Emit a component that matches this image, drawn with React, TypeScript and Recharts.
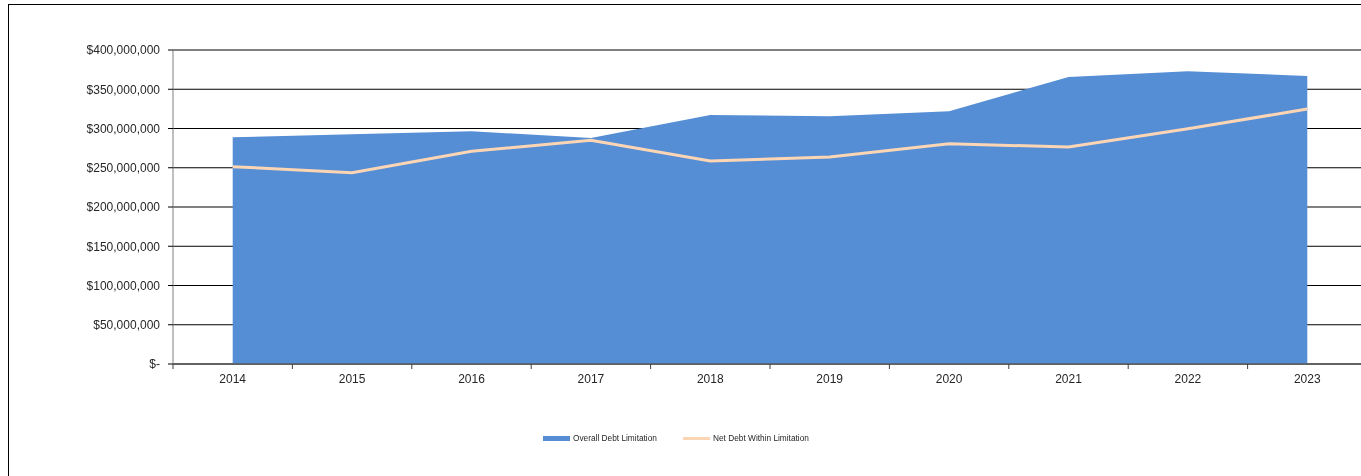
import React from "react";
import {
  ComposedChart,
  Area,
  Line,
  XAxis,
  YAxis,
  CartesianGrid,
  Legend,
} from "recharts";

const years = ["2014", "2015", "2016", "2017", "2018", "2019", "2020", "2021", "2022", "2023"];
const overallDebtLimitation = [
  288800000, 292600000, 296500000, 288000000, 317200000,
  315500000, 321900000, 365600000, 372800000, 366900000,
];
const netDebtWithinLimitation = [
  251400000, 243700000, 271000000, 285000000, 258600000,
  263700000, 280600000, 276400000, 299700000, 324800000,
];
const yTicks = [0, 50000000, 100000000, 150000000, 200000000, 250000000, 300000000, 350000000, 400000000];

const data = years.map((year, i) => ({
  year,
  overall: overallDebtLimitation[i],
  net: netDebtWithinLimitation[i],
}));

const CHART_W = 1400;
const CHART_H = 476;
const PLOT_LEFT = 173;
const PLOT_RIGHT = 1367;
const BAND = (PLOT_RIGHT - PLOT_LEFT) / years.length;

const BLUE = "#558ed5";
const PEACH = "#fcd5b4";
const TEXT = "#262626";

const fmtMoney = (v: number) => (v === 0 ? "$-" : "$" + v.toLocaleString("en-US"));

function YearTick(props: any) {
  const { x, y, payload, index } = props;
  const axisY = y - 8;
  const left = x - BAND / 2;
  return (
    <g>
      <line x1={left} x2={left} y1={axisY} y2={axisY + 5} stroke="#404040" />
      {index === years.length - 1 && (
        <line x1={x + BAND / 2} x2={x + BAND / 2} y1={axisY} y2={axisY + 5} stroke="#404040" />
      )}
      <text x={x} y={axisY + 19} textAnchor="middle" fontSize={12} fill={TEXT} fontFamily="Liberation Sans, Arial, sans-serif">
        {payload.value}
      </text>
    </g>
  );
}

function LegendBox() {
  const font = { fontSize: 8.3, fontFamily: "Liberation Sans, Arial, sans-serif", color: TEXT };
  return (
    <div style={{ position: "relative", height: 12 }}>
      <div style={{ position: "absolute", left: 543, top: 4, width: 27, height: 5, background: BLUE }} />
      <span style={{ ...font, position: "absolute", left: 573, top: 1, whiteSpace: "nowrap" }}>
        Overall Debt Limitation
      </span>
      <div style={{ position: "absolute", left: 683, top: 5, width: 27, height: 3, background: PEACH }} />
      <span style={{ ...font, position: "absolute", left: 713, top: 1, whiteSpace: "nowrap" }}>
        Net Debt Within Limitation
      </span>
    </div>
  );
}

export default function App() {
  return (
    <>
      <style>{`body{margin:0;overflow:hidden;background:#fff}`}</style>
      <div
        style={{
          position: "fixed",
          left: 8,
          top: 4,
          width: 1420,
          height: 560,
          border: "1px solid #000",
          boxSizing: "border-box",
        }}
      />
      <div style={{ position: "fixed", left: 0, top: 0 }}>
        <ComposedChart
          width={CHART_W}
          height={CHART_H}
          data={data}
          margin={{ top: 50, right: CHART_W - PLOT_RIGHT, bottom: 70, left: 0 }}
        >
          <CartesianGrid vertical={false} stroke="#000" strokeDasharray="" />
          <XAxis
            dataKey="year"
            scale="band"
            height={30}
            tickSize={6}
            tickMargin={2}
            tickLine={false}
            axisLine={{ stroke: "#595959", strokeWidth: 1.5 }}
            tick={<YearTick />}
            interval={0}
          />
          <YAxis
            width={PLOT_LEFT}
            domain={[0, 400000000]}
            ticks={yTicks}
            tickFormatter={fmtMoney}
            tickSize={5}
            tickMargin={8}
            axisLine={{ stroke: "#808080" }}
            tickLine={{ stroke: "#000" }}
            tick={{ fontSize: 12, fill: TEXT, fontFamily: "Liberation Sans, Arial, sans-serif" }}
            allowDataOverflow
          />
          <Area
            type="linear"
            dataKey="overall"
            name="Overall Debt Limitation"
            stroke="none"
            fill={BLUE}
            fillOpacity={1}
            isAnimationActive={false}
          />
          <Line
            type="linear"
            dataKey="net"
            name="Net Debt Within Limitation"
            stroke={PEACH}
            strokeWidth={3}
            dot={false}
            isAnimationActive={false}
          />
          <Legend content={<LegendBox />} wrapperStyle={{ top: 432, left: 0, width: CHART_W }} />
        </ComposedChart>
      </div>
    </>
  );
}
